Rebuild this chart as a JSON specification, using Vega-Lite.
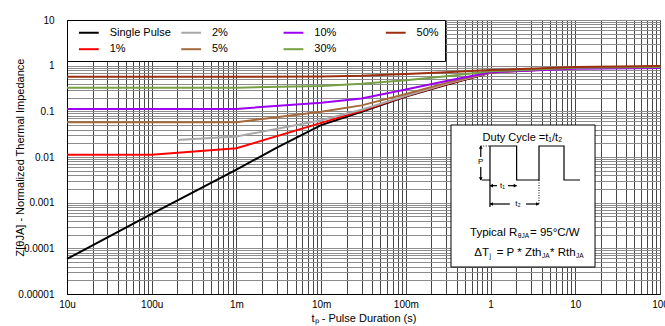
{
  "$schema": "https://vega.github.io/schema/vega-lite/v6.json",
  "width": 593,
  "height": 274,
  "autosize": {"type": "none"},
  "padding": {"left": 67, "top": 20, "right": 5, "bottom": 32},
  "background": "white",
  "config": {
    "font": "Liberation Sans, Arial, sans-serif",
    "view": {"stroke": "black", "strokeWidth": 1},
    "axis": {"labelColor": "black", "titleColor": "black", "titleFontWeight": "normal", "domainColor": "black", "ticks": false, "labelOverlap": false, "labelFlush": false},
    "legend": {
      "orient": "top-left", "offset": 0, "columns": 4, "gridAlign": "all",
      "symbolType": "M-0.1,0H3.5", "symbolSize": 121, "symbolStrokeWidth": 2,
      "labelFontSize": 11, "labelColor": "black", "labelOffset": 23.7,
      "columnPadding": 4.3, "rowPadding": 4.7, "padding": 6,
      "fillColor": "white", "strokeColor": "black", "cornerRadius": 0
    }
  },
  "datasets": {
    "curves": [
      {"s": "Single Pulse", "t": 0.00001, "z": 0.0000585},
      {"s": "Single Pulse", "t": 0.0001, "z": 0.00057},
      {"s": "Single Pulse", "t": 0.001, "z": 0.0053},
      {"s": "Single Pulse", "t": 0.003, "z": 0.016},
      {"s": "Single Pulse", "t": 0.01, "z": 0.05},
      {"s": "Single Pulse", "t": 0.03, "z": 0.098},
      {"s": "Single Pulse", "t": 0.1, "z": 0.21},
      {"s": "Single Pulse", "t": 0.3, "z": 0.38},
      {"s": "Single Pulse", "t": 1, "z": 0.7},
      {"s": "Single Pulse", "t": 3, "z": 0.83},
      {"s": "Single Pulse", "t": 10, "z": 0.89},
      {"s": "Single Pulse", "t": 30, "z": 0.92},
      {"s": "Single Pulse", "t": 100, "z": 0.95},
      {"s": "1%", "t": 0.00001, "z": 0.0112},
      {"s": "1%", "t": 0.0001, "z": 0.0112},
      {"s": "1%", "t": 0.001, "z": 0.0155},
      {"s": "1%", "t": 0.01, "z": 0.056},
      {"s": "1%", "t": 0.03, "z": 0.103},
      {"s": "1%", "t": 0.1, "z": 0.215},
      {"s": "1%", "t": 0.3, "z": 0.39},
      {"s": "1%", "t": 1, "z": 0.71},
      {"s": "1%", "t": 10, "z": 0.89},
      {"s": "1%", "t": 100, "z": 0.95},
      {"s": "2%", "t": 0.0002, "z": 0.0235},
      {"s": "2%", "t": 0.001, "z": 0.028},
      {"s": "2%", "t": 0.01, "z": 0.064},
      {"s": "2%", "t": 0.03, "z": 0.108},
      {"s": "2%", "t": 0.1, "z": 0.22},
      {"s": "2%", "t": 0.3, "z": 0.4},
      {"s": "2%", "t": 1, "z": 0.71},
      {"s": "2%", "t": 10, "z": 0.89},
      {"s": "2%", "t": 100, "z": 0.95},
      {"s": "5%", "t": 0.00001, "z": 0.058},
      {"s": "5%", "t": 0.001, "z": 0.058},
      {"s": "5%", "t": 0.01, "z": 0.098},
      {"s": "5%", "t": 0.03, "z": 0.135},
      {"s": "5%", "t": 0.1, "z": 0.24},
      {"s": "5%", "t": 0.3, "z": 0.42},
      {"s": "5%", "t": 1, "z": 0.72},
      {"s": "5%", "t": 10, "z": 0.89},
      {"s": "5%", "t": 100, "z": 0.94},
      {"s": "10%", "t": 0.00001, "z": 0.112},
      {"s": "10%", "t": 0.001, "z": 0.113},
      {"s": "10%", "t": 0.01, "z": 0.155},
      {"s": "10%", "t": 0.03, "z": 0.19},
      {"s": "10%", "t": 0.1, "z": 0.3},
      {"s": "10%", "t": 0.3, "z": 0.46},
      {"s": "10%", "t": 1, "z": 0.72},
      {"s": "10%", "t": 10, "z": 0.86},
      {"s": "10%", "t": 100, "z": 0.89},
      {"s": "30%", "t": 0.00001, "z": 0.33},
      {"s": "30%", "t": 0.001, "z": 0.33},
      {"s": "30%", "t": 0.01, "z": 0.36},
      {"s": "30%", "t": 0.03, "z": 0.4},
      {"s": "30%", "t": 0.1, "z": 0.48},
      {"s": "30%", "t": 0.3, "z": 0.59},
      {"s": "30%", "t": 1, "z": 0.75},
      {"s": "30%", "t": 10, "z": 0.9},
      {"s": "30%", "t": 100, "z": 0.94},
      {"s": "50%", "t": 0.00001, "z": 0.57},
      {"s": "50%", "t": 0.001, "z": 0.57},
      {"s": "50%", "t": 0.01, "z": 0.58},
      {"s": "50%", "t": 0.03, "z": 0.6},
      {"s": "50%", "t": 0.1, "z": 0.66},
      {"s": "50%", "t": 0.3, "z": 0.72},
      {"s": "50%", "t": 1, "z": 0.8},
      {"s": "50%", "t": 10, "z": 0.93},
      {"s": "50%", "t": 100, "z": 0.98}
    ],
    "box": [{"t": 0.341, "t2": 17.1, "z": 0.000039, "z2": 0.0502}],
    "ink": [
      {"seg": "wave", "o": 1, "t": 0.785, "z": 0.003135},
      {"seg": "wave", "o": 2, "t": 0.984, "z": 0.003135},
      {"seg": "wave", "o": 3, "t": 0.984, "z": 0.01741},
      {"seg": "wave", "o": 4, "t": 2.03, "z": 0.01741},
      {"seg": "wave", "o": 5, "t": 2.03, "z": 0.003135},
      {"seg": "wave", "o": 6, "t": 3.73, "z": 0.003135},
      {"seg": "wave", "o": 7, "t": 3.73, "z": 0.01741},
      {"seg": "wave", "o": 8, "t": 7.36, "z": 0.01741},
      {"seg": "wave", "o": 9, "t": 7.36, "z": 0.003135},
      {"seg": "wave", "o": 10, "t": 11.4, "z": 0.003135},
      {"seg": "pTop", "o": 1, "t": 0.766, "z": 0.01741},
      {"seg": "pTop", "o": 2, "t": 0.766, "z": 0.01},
      {"seg": "pBot", "o": 1, "t": 0.766, "z": 0.00604},
      {"seg": "pBot", "o": 2, "t": 0.766, "z": 0.003135},
      {"seg": "v1", "o": 1, "t": 0.984, "z": 0.003135},
      {"seg": "v1", "o": 2, "t": 0.984, "z": 0.000804},
      {"seg": "t1a", "o": 1, "t": 0.984, "z": 0.002352},
      {"seg": "t1a", "o": 2, "t": 1.191, "z": 0.002352},
      {"seg": "t1b", "o": 1, "t": 1.607, "z": 0.002352},
      {"seg": "t1b", "o": 2, "t": 2.03, "z": 0.002352},
      {"seg": "t2a", "o": 1, "t": 0.984, "z": 0.000935},
      {"seg": "t2a", "o": 2, "t": 1.695, "z": 0.000935},
      {"seg": "t2b", "o": 1, "t": 2.62, "z": 0.000935},
      {"seg": "t2b", "o": 2, "t": 3.73, "z": 0.000935}
    ],
    "dots": [
      {"seg": "d1", "o": 1, "t": 0.766, "z": 0.01741},
      {"seg": "d1", "o": 2, "t": 0.984, "z": 0.01741},
      {"seg": "d2", "o": 1, "t": 3.73, "z": 0.003135},
      {"seg": "d2", "o": 2, "t": 3.73, "z": 0.000935}
    ],
    "heads": [
      {"d": "up", "t": 0.766, "z": 0.0165},
      {"d": "down", "t": 0.766, "z": 0.0033},
      {"d": "left", "t": 1.02, "z": 0.002352},
      {"d": "right", "t": 1.96, "z": 0.002352},
      {"d": "left", "t": 1.02, "z": 0.000935},
      {"d": "right", "t": 3.6, "z": 0.000935}
    ],
    "txt": [
      {"k": "ctr", "s": "Duty Cycle =t₁/t₂", "t": 2.38, "z": 0.0261},
      {"k": "small", "s": "P", "t": 0.766, "z": 0.00766},
      {"k": "small", "s": "t₁", "t": 1.383, "z": 0.002352},
      {"k": "small", "s": "t₂", "t": 2.108, "z": 0.000935},
      {"k": "mainR", "s": "Typical R", "t": 2.068, "z": 0.000217},
      {"k": "sub", "s": "θJA", "t": 2.097, "z": 0.000217},
      {"k": "main", "s": "= 95°C/W", "t": 2.921, "z": 0.000217},
      {"k": "mainR", "s": "ΔT", "t": 0.958, "z": 0.000079},
      {"k": "sub", "s": "j", "t": 0.971, "z": 0.000079},
      {"k": "mainR", "s": "= P * Zth", "t": 3.992, "z": 0.000079},
      {"k": "sub", "s": "JA", "t": 4.047, "z": 0.000079},
      {"k": "main", "s": "* Rth", "t": 5.03, "z": 0.000079},
      {"k": "sub", "s": "JA", "t": 10.2, "z": 0.000079}
    ]
  },
  "encoding": {
    "x": {
      "field": "t", "type": "quantitative",
      "scale": {"type": "log", "domain": [0.00001, 100], "nice": false},
      "axis": {
        "values": [0.00001,0.00002,0.00003,0.00004,0.00005,0.00006,0.00007,0.00008,0.00009,0.0001,0.0002,0.0003,0.0004,0.0005,0.0006,0.0007,0.0008,0.0009,0.001,0.002,0.003,0.004,0.005,0.006,0.007,0.008,0.009,0.01,0.02,0.03,0.04,0.05,0.06,0.07,0.08,0.09,0.1,0.2,0.3,0.4,0.5,0.6,0.7,0.8,0.9,1,2,3,4,5,6,7,8,9,10,20,30,40,50,60,70,80,90,100],
        "labelExpr": "abs(log(datum.value)/LN10 - round(log(datum.value)/LN10)) > 0.01 ? '' : ['10u','100u','1m','10m','100m','1','10','100'][round(log(datum.value)/LN10) + 5]",
        "grid": true, "gridColor": "#474747", "gridWidth": 1,
        "labelFontSize": 10, "labelPadding": 5,
        "title": "tₚ - Pulse Duration (s)", "titleFontSize": 11, "titlePadding": 3
      }
    },
    "y": {
      "field": "z", "type": "quantitative",
      "scale": {"type": "log", "domain": [0.00001, 10], "nice": false},
      "axis": {
        "values": [0.00001,0.00002,0.00003,0.00004,0.00005,0.00006,0.00007,0.00008,0.00009,0.0001,0.0002,0.0003,0.0004,0.0005,0.0006,0.0007,0.0008,0.0009,0.001,0.002,0.003,0.004,0.005,0.006,0.007,0.008,0.009,0.01,0.02,0.03,0.04,0.05,0.06,0.07,0.08,0.09,0.1,0.2,0.3,0.4,0.5,0.6,0.7,0.8,0.9,1,2,3,4,5,6,7,8,9,10],
        "labelExpr": "abs(log(datum.value)/LN10 - round(log(datum.value)/LN10)) > 0.01 ? '' : ['0.00001','0.0001','0.001','0.01','0.1','1','10'][round(log(datum.value)/LN10) + 5]",
        "grid": true, "gridColor": "#8c8c8c", "gridWidth": 1,
        "labelFontSize": 10, "labelPadding": 13,
        "title": "Z[θJA] - Normalized Thermal Impedance", "titleFontSize": 11,
        "titleX": -47, "titleY": 137, "titleBaseline": "middle", "titleAngle": -90
      }
    }
  },
  "layer": [
    {
      "data": {"name": "curves"},
      "mark": {"type": "line", "strokeWidth": 2},
      "encoding": {
        "color": {
          "field": "s", "type": "nominal",
          "scale": {
            "domain": ["Single Pulse", "1%", "2%", "5%", "10%", "30%", "50%"],
            "range": ["#000000", "#ff0000", "#a8a8a8", "#a5693a", "#9b00f0", "#77a044", "#9b2f0e"]
          },
          "legend": {"title": null}
        }
      }
    },
    {
      "data": {"name": "box"},
      "mark": {"type": "rect", "fill": "white", "stroke": "black", "strokeWidth": 1},
      "encoding": {"x2": {"field": "t2"}, "y2": {"field": "z2"}}
    },
    {
      "data": {"name": "ink"},
      "mark": {"type": "line", "color": "black", "strokeWidth": 1.2},
      "encoding": {"detail": {"field": "seg"}, "order": {"field": "o"}}
    },
    {
      "data": {"name": "dots"},
      "mark": {"type": "line", "color": "black", "strokeWidth": 1, "strokeDash": [1, 1.5]},
      "encoding": {"detail": {"field": "seg"}, "order": {"field": "o"}}
    },
    {
      "data": {"name": "heads"},
      "mark": {"type": "point", "filled": true, "color": "black", "size": 14, "opacity": 1},
      "encoding": {
        "shape": {"field": "d", "type": "nominal", "legend": null,
          "scale": {"domain": ["up", "down", "left", "right"], "range": ["triangle-up", "triangle-down", "triangle-left", "triangle-right"]}}
      }
    },
    {
      "data": {"name": "txt"},
      "transform": [{"filter": "datum.k == 'ctr'"}],
      "mark": {"type": "text", "fontSize": 11, "align": "center", "baseline": "middle", "color": "black"},
      "encoding": {"text": {"field": "s"}}
    },
    {
      "data": {"name": "txt"},
      "transform": [{"filter": "datum.k == 'small'"}],
      "mark": {"type": "text", "fontSize": 8, "align": "center", "baseline": "middle", "color": "black"},
      "encoding": {"text": {"field": "s"}}
    },
    {
      "data": {"name": "txt"},
      "transform": [{"filter": "datum.k == 'main'"}],
      "mark": {"type": "text", "fontSize": 11.5, "align": "left", "baseline": "middle", "color": "black"},
      "encoding": {"text": {"field": "s"}}
    },
    {
      "data": {"name": "txt"},
      "transform": [{"filter": "datum.k == 'mainR'"}],
      "mark": {"type": "text", "fontSize": 11.5, "align": "right", "baseline": "middle", "color": "black"},
      "encoding": {"text": {"field": "s"}}
    },
    {
      "data": {"name": "txt"},
      "transform": [{"filter": "datum.k == 'sub'"}],
      "mark": {"type": "text", "fontSize": 6.5, "align": "left", "baseline": "middle", "dy": 3, "color": "black"},
      "encoding": {"text": {"field": "s"}}
    }
  ]
}
